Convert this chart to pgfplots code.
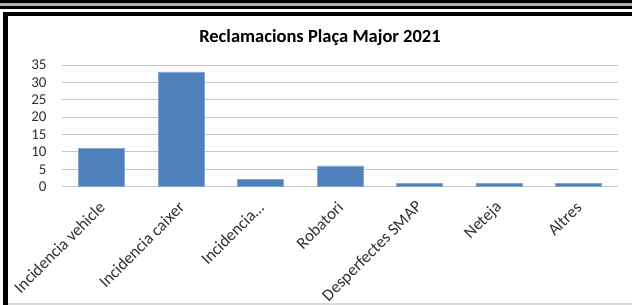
\documentclass[border=0pt]{standalone}
\usepackage{pgfplots}
\pgfplotsset{compat=1.18}
\usepackage{fontspec}
\setmainfont{Carlito}
\definecolor{barblue}{HTML}{4F81BD}
\definecolor{gridgray}{HTML}{C6C6C6}
\definecolor{txt}{HTML}{303030}
\begin{document}
\begin{tikzpicture}[x=1pt,y=1pt]
\path[use as bounding box] (0,0) rectangle (632,305);
% frame decorations
\fill[black] (0,301.5) rectangle (632,305);
\fill[gray!60] (0,299) rectangle (632,301.5);
\fill[black] (0,296) rectangle (632,299);
\fill[black] (3,289) rectangle (632,293);
\fill[black] (3,0) rectangle (8,293);
\fill[gray!30] (8,0) rectangle (632,1.5);
\node[font=\fontsize{18.5}{20}\selectfont\bfseries, text=black] at (320,267) {Reclamacions Plaça Major 2021};
\begin{axis}[
  at={(62pt,118.3pt)}, anchor=south west,
  scale only axis, width=556pt, height=121.7pt,
  xmin=-0.5, xmax=6.5, ymin=0, ymax=35,
  ytick={0,5,10,15,20,25,30,35},
  xtick={0,1,2,3,4,5,6},
  xticklabels={Incidencia vehicle, Incidencia caixer, {Incidencia\ldots}, Robatori, Desperfectes SMAP, Neteja, Altres},
  axis x line*=bottom, axis y line*=left,
  x axis line style={gridgray, line width=1pt, -},
  y axis line style={draw=none},
  ymajorgrids, grid style={gridgray, line width=1pt},
  major tick length=0pt,
  tick style={draw=none},
  /pgf/number format/assume math mode=true,
  yticklabel style={font=\fontsize{15}{16}\selectfont, text=txt, anchor=east, xshift=-12pt},
  xticklabel style={font=\fontsize{16.8}{17}\selectfont, text=txt, rotate=45, anchor=east, xshift=-9pt, yshift=-13pt},
  ybar, bar width=46pt,
]
\addplot[fill=barblue, draw=barblue!70!white, line width=0.6pt] coordinates {(0,11) (1,33) (2,2) (3,6) (4,1) (5,1) (6,1)};
\end{axis}
\end{tikzpicture}
\end{document}
